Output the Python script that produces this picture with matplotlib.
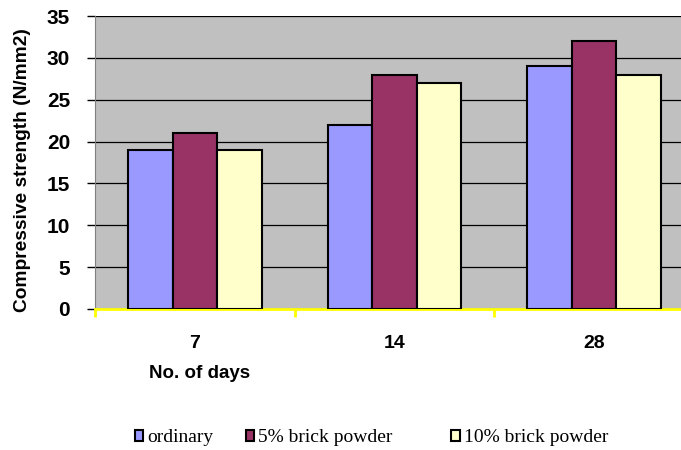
import matplotlib.pyplot as plt
import matplotlib.patches as mpatches
import numpy as np

days = ["7", "14", "28"]
series = ["ordinary", "5% brick powder", "10% brick powder"]
ordinary = [19, 22, 29]
brick5 = [21, 28, 32]
brick10 = [19, 27, 28]
colors = ["#9999FF", "#993366", "#FFFFCC"]

plt.rcParams["font.family"] = ["Liberation Sans", "DejaVu Sans"]

fig = plt.figure(figsize=(6.81, 4.5), dpi=100)
ax = fig.add_axes([95 / 681, 141 / 450, 599 / 681, 293 / 450])
ax.set_facecolor("#C0C0C0")

x = np.arange(len(days))
w = 0.223
for i, (vals, c) in enumerate(zip([ordinary, brick5, brick10], colors)):
    ax.bar(x + (i - 1) * w, vals, w, color=c, edgecolor="black",
           linewidth=1.5, zorder=3)

ax.set_xlim(-0.5, 2.5)
ax.set_ylim(0, 35)
ax.set_yticks(range(0, 36, 5))
ax.yaxis.grid(True, color="black", linewidth=0.9, zorder=1)
ax.set_axisbelow(True)

for s in ["top", "right"]:
    ax.spines[s].set_visible(False)
ax.spines["left"].set_color("#808080")
ax.spines["bottom"].set_color("#FFFF00")
ax.spines["bottom"].set_linewidth(2)

ax.set_xticks(x)
ax.set_xticklabels(days, fontsize=14, fontweight="bold")
ax.tick_params(axis="x", which="major", length=0, pad=19)
ax.set_xticks([-0.5, 0.5, 1.5, 2.5], minor=True)
ax.tick_params(axis="x", which="minor", length=6, width=2, color="#FFFF00")
ax.tick_params(axis="y", length=6, width=1, color="black", pad=12,
               labelsize=15)
for lab in ax.get_yticklabels():
    lab.set_fontweight("bold")

fig.text(23 / 681, 1 - 170 / 450, "Compressive strength (N/mm2)",
         rotation=90, ha="center", va="center", fontsize=13.8,
         fontweight="bold")
fig.text(200 / 681, 1 - 374 / 450, "No. of days", ha="center",
         va="center", fontsize=13.5, fontweight="bold")

leg_x = [117 / 681, 228 / 681, 434 / 681]
for lbl, c, lx in zip(series, colors, leg_x):
    h = mpatches.Patch(facecolor=c, edgecolor="black", linewidth=1.5)
    fig.legend(handles=[h], labels=[lbl], loc="center left",
               bbox_to_anchor=(lx, 1 - 438 / 450), frameon=False,
               handlelength=0.45, handleheight=0.45, handletextpad=0.2,
               prop={"family": "Liberation Serif", "size": 14})

fig.savefig("out.png", dpi=100)
